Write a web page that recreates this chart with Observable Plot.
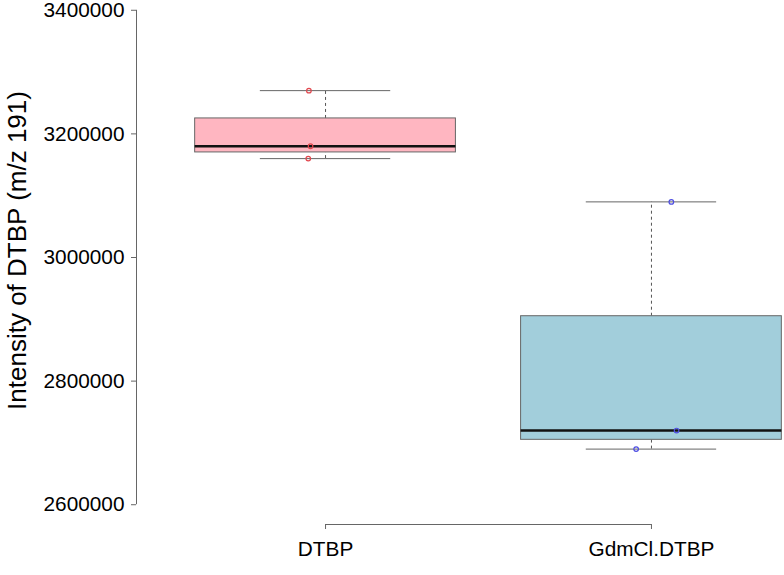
<!DOCTYPE html>
<html><head><meta charset="utf-8">
<script src="https://cdn.jsdelivr.net/npm/d3@7"></script>
<script src="https://cdn.jsdelivr.net/npm/@observablehq/plot@0.6"></script>
<style>
body{margin:0;background:#fff}
#chart svg{display:block}
</style>
</head><body><div id="chart"></div>
<script>
// ---- data ----
const groups = ["DTBP", "GdmCl.DTBP"];
const valuesDTBP = [3270000, 3180000, 3160000];
const valuesGdmCl = [3090000, 2720000, 2690000];
const jitterDTBP = [-0.051, -0.046, -0.053];
const jitterGdmCl = [0.061, 0.077, -0.047];
const yTicks = [2600000, 2800000, 3000000, 3200000, 3400000];
const yLabel = "Intensity of DTBP (m/z 191)";

// ---- styles ----
const boxFills = ["#ffb6c1", "#a2cedb"];
const pointColors = ["#e2474e", "#4d4de2"];
const grey = "#666";
const font = "'Liberation Sans', Arial, Helvetica, sans-serif";

// R-style fivenum
function fivenum(v) {
  const x = v.slice().sort((a, b) => a - b), n = x.length;
  const n4 = Math.floor((n + 3) / 2) / 2;
  const d = [1, n4, (n + 1) / 2, n + 1 - n4, n];
  return d.map(k => 0.5 * (x[Math.floor(k) - 1] + x[Math.ceil(k) - 1]));
}
const series = [valuesDTBP, valuesGdmCl];
const jitters = [jitterDTBP, jitterGdmCl];
const stats = series.map((v, k) => {
  const [mn, q1, med, q3, mx] = fivenum(v);
  const iqr = q3 - q1;
  const lo = d3.min(v.filter(t => t >= q1 - 1.5 * iqr));
  const hi = d3.max(v.filter(t => t <= q3 + 1.5 * iqr));
  return {i: k + 1, q1, med, q3, lo, hi, fill: boxFills[k]};
});
const points = series.flatMap((v, k) => v.map((value, j) => ({
  x: k + 1 + jitters[k][j], value, color: pointColors[k]
})));

// R default axis extension (4%)
const xLim = [0.5, groups.length + 0.5];
const yLim = [yTicks[0], yTicks[yTicks.length - 1]];
const ext = (l) => { const r = l[1] - l[0]; return [l[0] - 0.04 * r, l[1] + 0.04 * r]; };
const xDomain = ext(xLim), yDomain = ext(yLim);

const boxW = 0.4, capW = 0.2;

const chart = Plot.plot({
  width: 784,
  height: 575,
  marginLeft: 136,
  marginRight: 0,
  marginTop: -10,
  marginBottom: 51,
  style: {fontFamily: font, fontSize: "20.8px", color: "#000", background: "#fff"},
  x: {type: "linear", domain: xDomain, range: [136, 840]},
  y: {domain: yDomain},
  color: {type: "identity"},
  marks: [
    // whiskers
    Plot.ruleX(stats, {x: "i", y1: "q3", y2: "hi", stroke: "#555", strokeDasharray: "3,3"}),
    Plot.ruleX(stats, {x: "i", y1: "lo", y2: "q1", stroke: "#555", strokeDasharray: "3,3"}),
    // caps
    Plot.ruleY(stats, {y: "hi", x1: d => d.i - capW, x2: d => d.i + capW, stroke: grey}),
    Plot.ruleY(stats, {y: "lo", x1: d => d.i - capW, x2: d => d.i + capW, stroke: grey}),
    // boxes
    Plot.rect(stats, {x1: d => d.i - boxW, x2: d => d.i + boxW, y1: "q1", y2: "q3", fill: "fill", stroke: grey, strokeWidth: 1}),
    // medians
    Plot.ruleY(stats, {y: "med", x1: d => d.i - boxW, x2: d => d.i + boxW, stroke: "#111", strokeWidth: 2.5}),
    // points
    Plot.dot(points, {x: "x", y: "value", r: 2.3, stroke: "color", fill: "none", strokeWidth: 1.2}),
    // y axis
    Plot.ruleX([xDomain[0]], {y1: yLim[0], y2: yLim[1], stroke: grey}),
    Plot.axisY({ticks: yTicks, tickFormat: d3.format("d"), tickSize: 5, tickPadding: 7, stroke: grey, fill: "#000", fontSize: 20.8, label: null}),
    // x axis
    Plot.ruleY([yDomain[0]], {x1: xLim[0] + 0.5, x2: xLim[1] - 0.5, stroke: grey}),
    Plot.axisX({ticks: d3.range(1, groups.length + 1), tickFormat: i => groups[i - 1], tickSize: 5, tickPadding: 12, stroke: grey, fill: "#000", fontSize: 20.8, label: null}),
    // y label
    Plot.text([yLabel], {frameAnchor: "left", textAnchor: "middle", lineAnchor: "middle", rotate: -90, dx: -119, dy: -7, fontSize: 26, fill: "#000"})
  ]
});
document.getElementById("chart").appendChild(chart);
</script>
</body></html>
